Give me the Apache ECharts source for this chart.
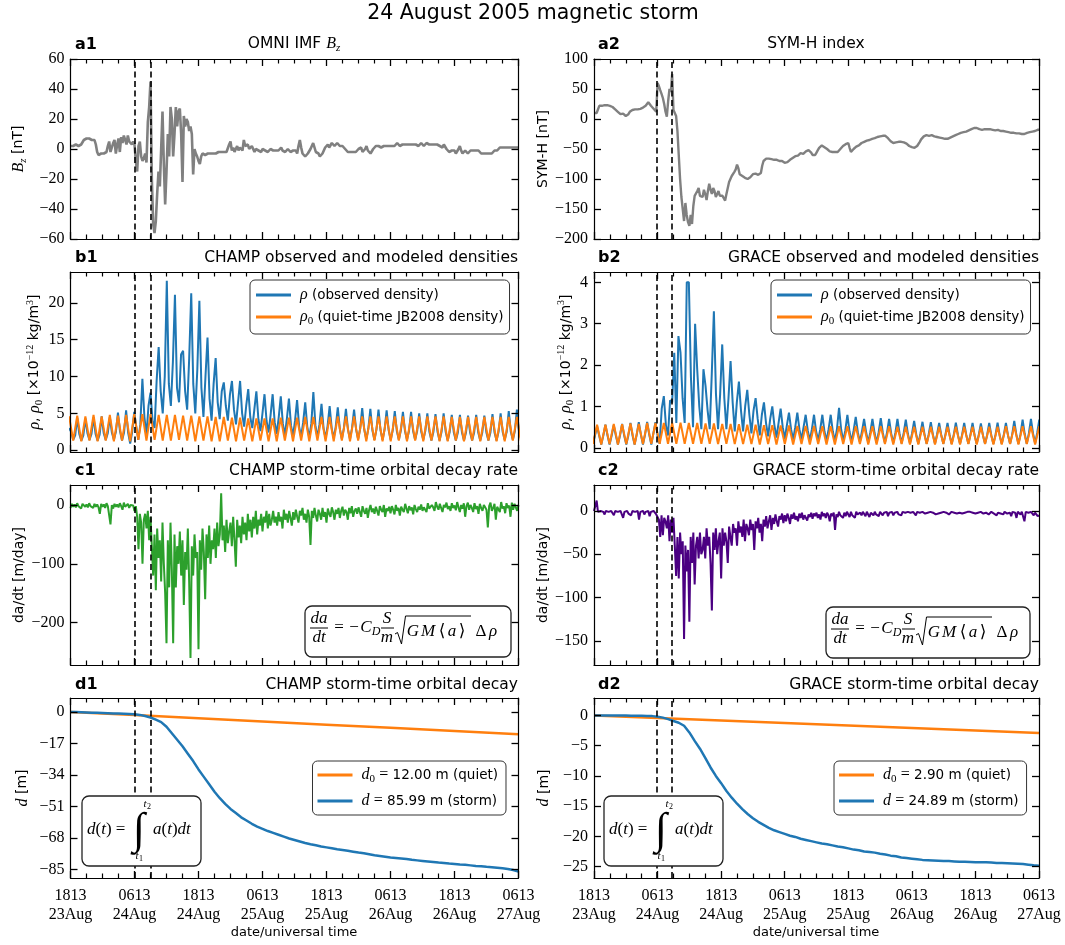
<!DOCTYPE html>
<html><head><meta charset="utf-8">
<script src="https://cdn.jsdelivr.net/npm/echarts@6/dist/echarts.min.js"></script>
<style>html,body{margin:0;padding:0;background:#fff}#c{width:1065px;height:945px}</style>
</head><body><div id="c"></div>
<script>
// ---------------- DATA ----------------
const xTickLabels = ['1813\n23Aug','0613\n24Aug','1813\n24Aug','0613\n25Aug','1813\n25Aug','0613\n26Aug','1813\n26Aug','0613\n27Aug'];
const bzTicks = [-60,-40,-20,0,20,40,60];
const symhTicks = [-200,-150,-100,-50,0,50,100];
const rhoChampTicks = [0,5,10,15,20];
const rhoGraceTicks = [0,1,2,3,4];
const dadtChampTicks = [-200,-100,0];
const dadtGraceTicks = [-150,-100,-50,0];
const dChampTicks = [-85,-68,-51,-34,-17,0];
const dGraceTicks = [-25,-20,-15,-10,-5,0];
const stormMarks = [[12.07,15.06],[11.79,14.76]]; // t1,t2 (hours since 1813 23Aug)

const tStep = 0.25; // hours, Bz / SYM-H / da/dt sampling
const bz = [
2,1,2,2,3,2,2,3,3,4,6,6, 7,6,7,6,6,5,6,3,-2,-4,-5,-3, -4,-3,-3,-2,2,5,-2,-3,4,6,-3,3,
7,-2,8,4,9,6,3,9,5,6,3,5, 3,-8,-15,2,5,-5,-8,-6,-3,-9,18,28, 45,-20,-50,-56,-48,-30,-15,-25,0,25,-10,-37,
-15,10,-5,28,20,-5,10,28,15,25,27,10, -22,22,15,20,18,12,15,10,-17,0,-3,-5, -8,-10,-5,-3,-2,-4,-3,-3,-2,-3,-2,-3,
-2,-3,-3,-2,-3,-2,-3,-2,-1,-2,-3,3, 5,-1,1,-2,0,2,-1,1,0,-1,6,2, 1,3,0,-1,2,1,-2,0,1,-1,0,-2,
0,1,-1,0,-2,-1,0,1,-1,-2,-1,0, -1,0,1,-1,0,-2,-1,0,-1,-2,-3,-1, -2,-1,-3,2,6,1,-3,-4,-5,-4,-3,-2,
0,2,4,1,-2,-1,-3,-5,-4,-3,-2,1, 2,3,1,2,4,3,2,3,4,3,2,1, 2,1,0,-1,-2,-1,-2,-1,-2,-3,-2,-1,
0,-1,1,-2,-1,0,2,-1,0,-3,-2,0, 1,2,1,2,3,1,2,2,3,2,1,2, 3,2,3,2,3,4,3,2,3,3,2,3,
2,3,4,3,2,3,4,3,3,2,3,4, 3,2,3,4,3,3,4,3,2,3,4,3, 3,2,2,1,3,2,0,-1,-2,-3,-1,0,
-1,-3,-2,0,2,-1,-3,-2,-1,-2,-3,-2, -1,-2,-1,0,-1,-2,-1,-2,-3,-4,-3,-2, -3,-4,-3,-2,-3,-2,-1,-2,-1,0,1,0,
1,2,1,0,1,2,1,2,1,2,1,0, 1];
const symh = [
10,10,10,10,22,23,22,24,23,24,23,24, 22,23,20,18,16,14,12,10,8,7,9,6, 5,6,8,12,14,15,14,16,17,16,18,17,
18,19,20,22,24,28,25,22,20,17,14,12, 60,55,48,42,35,25,12,4,30,50,45,75, 15,10,5,-20,-60,-100,-130,-150,-170,-140,-160,-172,
-178,-160,-175,-145,-128,-125,-120,-115,-128,-125,-130,-118, -125,-135,-120,-108,-118,-125,-115,-120,-130,-125,-120,-128,
-130,-128,-132,-136,-125,-115,-105,-100,-95,-92,-88,-84, -76,-82,-92,-95,-95,-97,-98,-100,-100,-98,-97,-95,
-92,-90,-91,-92,-93,-92,-90,-78,-70,-67,-66,-65, -66,-65,-67,-66,-68,-67,-68,-69,-70,-68,-70,-72,
-73,-75,-72,-70,-68,-67,-65,-63,-62,-60,-61,-58, -57,-56,-58,-55,-54,-53,-52,-53,-56,-60,-62,-60,
-56,-52,-48,-45,-44,-46,-47,-48,-50,-52,-54,-55, -55,-56,-55,-54,-55,-52,-50,-47,-45,-44,-42,-40,
-40,-48,-55,-53,-50,-48,-46,-45,-44,-42,-40,-39, -38,-37,-36,-35,-35,-34,-33,-33,-32,-31,-30,-30,
-29,-28,-28,-27,-28,-30,-32,-34,-37,-40,-40,-39, -39,-38,-38,-39,-38,-38,-39,-40,-41,-43,-45,-48,
-47,-50,-48,-46,-45,-42,-38,-34,-31,-29,-28,-27, -27,-28,-28,-27,-28,-29,-30,-30,-31,-31,-32,-32,
-33,-33,-32,-33,-32,-31,-30,-29,-28,-27,-26,-25, -24,-23,-22,-22,-21,-21,-20,-19,-18,-17,-16,-15,
-14,-15,-16,-17,-18,-18,-17,-17,-18,-17,-18,-17, -17,-18,-18,-19,-19,-18,-19,-20,-20,-20,-21,-21,
-21,-22,-22,-23,-22,-23,-24,-24,-25,-24,-25,-25, -24,-25,-24,-23,-23,-22,-22,-21,-21,-20,-19,-18, -18];

// CHAMP densities: first sample is an orbit peak at champT0; orange = half-orbit samples, blue = quarter-orbit samples
const champT0 = -0.262, champHalf = 0.7633;
const rho0Champ = [
4.6,1.3,4.7,1.2,4.6,1.3,4.8,1.2,4.6,1.3,4.8,1.2,4.7,1.3,4.8,1.2,4.9,1.4,4.9,1.3,
4.9,1.4,4.8,1.3,4.8,1.3,4.8,1.4,4.7,1.3,4.7,1.2,4.6,1.3,4.6,1.2,4.5,1.2,4.5,1.3,
4.4,1.2,4.4,1.3,4.3,1.2,4.3,1.3,4.3,1.2,4.3,1.2,4.4,1.3,4.4,1.2,4.4,1.3,4.5,1.2,
4.5,1.3,4.5,1.2,4.5,1.2,4.6,1.3,4.6,1.2,4.6,1.3,4.6,1.2,4.6,1.3,4.6,1.2,4.6,1.2,
4.6,1.3,4.6,1.2,4.6,1.3,4.6,1.2,4.6,1.3,4.6,1.2,4.6,1.2,4.5,1.3,4.5,1.2,4.5,1.3,
4.5,1.2,4.5,1.3,4.5,1.2,4.5,1.2,4.5,1.3,4.5,1.2];
const rhoChamp = [
3.0,2.5,1.4,2.0, 4.4,2.2,1.3,2.0, 4.3,2.3,1.4,2.2, 4.5,2.2,1.3,2.1, 4.6,2.3,1.4,2.3, 4.5,2.4,1.4,2.5,
5.1,2.6,1.3,2.4, 5.4,2.4,0.9,2.5, 5.2,3.2,1.4,3.5, 9.7,4.5,2.0,6.0, 7.8,4.0,3.0,9.4, 14.0,8.0,5.0,10.0,
23.0,9.0,6.0,12.0, 21.1,8.5,6.5,13.0, 13.5,8.0,5.5,12.5, 21.3,9.0,5.0,11.0, 20.3,8.5,4.5,10.0, 15.3,7.0,4.0,9.0,
12.5,6.5,4.2,8.0, 9.2,6.0,4.0,7.5, 9.4,5.5,3.5,6.5, 9.4,5.0,3.2,6.0, 8.3,4.5,3.0,5.5, 8.0,4.2,2.6,5.0,
7.6,4.0,2.4,4.8, 7.6,3.8,2.2,4.5, 7.3,3.6,2.0,4.3, 7.0,3.4,1.9,4.0, 6.8,3.2,1.8,3.8, 6.5,3.2,1.7,3.6,
7.9,3.4,1.7,3.5, 6.3,3.0,1.6,3.3, 6.0,3.0,1.6,3.2, 5.8,2.9,1.5,3.0, 5.6,2.8,1.5,3.0, 5.5,2.8,1.5,2.9,
5.7,2.8,1.5,2.9, 5.6,2.7,1.4,2.8, 5.5,2.7,1.4,2.8, 5.4,2.7,1.4,2.7, 5.3,2.6,1.4,2.7, 5.2,2.6,1.4,2.6,
5.2,2.6,1.4,2.6, 5.0,2.5,1.4,2.6, 5.0,2.5,1.3,2.5, 4.9,2.5,1.3,2.5, 5.0,2.5,1.3,2.5, 4.8,2.4,1.3,2.4,
4.8,2.4,1.3,2.4, 4.7,2.4,1.3,2.4, 4.8,2.4,1.3,2.4, 4.7,2.4,1.3,2.4, 4.9,2.4,1.3,2.5, 5.0,2.5,1.4,2.5,
5.3,2.5,1.4,2.6, 5.5,2.6,1.6,2.8];

// GRACE densities
const graceT0 = -0.995, graceHalf = 0.7875;
const rho0Grace = [
0.55,0.09,0.56,0.08,0.56,0.09,0.58,0.08,0.57,0.09,0.59,0.08,0.58,0.09,0.6,0.1,0.6,0.1,
0.6,0.1,0.6,0.1,0.61,0.1,0.6,0.1,0.6,0.1,0.59,0.1,0.59,0.09,0.58,0.1,0.58,0.09,0.57,0.09,
0.56,0.09,0.56,0.08,0.55,0.09,0.55,0.08,0.54,0.09,0.54,0.08,0.53,0.09,0.53,0.08,0.53,0.09,0.52,0.08,
0.52,0.08,0.52,0.09,0.52,0.08,0.52,0.09,0.52,0.08,0.52,0.08,0.52,0.09,0.52,0.08,0.51,0.09,0.51,0.08,
0.51,0.08,0.51,0.09,0.51,0.08,0.51,0.09,0.51,0.08,0.51,0.08,0.51,0.09,0.51,0.08,0.51,0.09,0.51,0.08,
0.51,0.08,0.52,0.09,0.52,0.08,0.52,0.09,0.52,0.08,0.52,0.09];
const rhoGrace = [
0.5,0.3,0.1,0.3, 0.52,0.3,0.08,0.3, 0.56,0.3,0.08,0.3, 0.55,0.3,0.08,0.3, 0.58,0.3,0.08,0.3,
0.6,0.3,0.08,0.32, 0.62,0.32,0.08,0.32, 0.63,0.32,0.08,0.35, 0.62,0.3,0.1,0.95, 1.25,0.55,0.3,1.15,
1.1,2.3,0.6,2.7, 2.3,1.2,0.6,4.0, 4.0,1.7,0.5,3.0, 1.9,1.0,0.45,1.9, 1.5,0.9,0.45,1.8,
3.3,1.3,0.45,1.3, 2.5,1.2,0.45,1.2, 2.1,1.1,0.4,1.1, 1.6,0.9,0.4,1.0, 1.4,0.8,0.35,0.9,
1.2,0.7,0.3,0.8, 1.1,0.6,0.28,0.7, 1.0,0.55,0.25,0.6, 0.95,0.5,0.22,0.55, 0.85,0.45,0.2,0.5,
0.85,0.45,0.2,0.5, 0.8,0.42,0.18,0.45, 0.8,0.4,0.18,0.45, 0.8,0.4,0.17,0.45, 0.8,0.4,0.16,0.45,
0.97,0.45,0.16,0.42, 0.8,0.4,0.15,0.42, 0.75,0.38,0.14,0.4, 0.7,0.37,0.13,0.38, 0.7,0.37,0.12,0.38,
0.72,0.36,0.12,0.37, 0.7,0.35,0.12,0.36, 0.7,0.35,0.11,0.36, 0.68,0.34,0.11,0.35, 0.65,0.33,0.1,0.34,
0.63,0.32,0.1,0.33, 0.62,0.32,0.1,0.33, 0.6,0.31,0.1,0.32, 0.6,0.31,0.1,0.32, 0.61,0.31,0.1,0.32,
0.6,0.31,0.1,0.32, 0.6,0.3,0.1,0.32, 0.59,0.3,0.1,0.31, 0.6,0.3,0.1,0.31, 0.61,0.3,0.1,0.32,
0.6,0.3,0.1,0.32, 0.65,0.32,0.1,0.33, 0.68,0.34,0.1,0.35, 0.7,0.35,0.11,0.36, 0.68,0.35,0.12,0.35];

const dadtChamp = [
-5,2,-3,1,-4,3,-2,0,-6,2,-1,-3, 1,-4,3,-2,0,-5,2,-3,1,-4,-15,2, -3,1,-5,3,-2,-4,-33,0,-6,2,-3,1,
-4,3,-2,-8,4,-3,-6,2,-5,0,-3,-1, -10,-2,-20,-75,-15,-30,-100,-25,-15,-40,-10,-60,
-20,-70,-120,-50,-145,-40,-90,-60,-130,-30,-100,-150, -235,-60,-140,-30,-110,-235,-50,-140,-70,-100,-45,-120,
-60,-170,-80,-110,-40,-130,-260,-70,-120,-50,-90,-80, -245,-60,-110,-40,-80,-160,-50,-90,-35,-100,-60,-75,
-40,-90,-30,-70,-50,20,-60,-35,-80,-25,-65,-45, -30,-70,-20,-60,-105,-25,-55,-35,-65,-20,-50,-30,
-60,-15,-45,-25,-55,-20,-40,-10,-50,-25,-35,-15, -45,-20,-30,-10,-40,-15,-35,-25,-10,-30,-20,-35,
-12,-28,-20,-40,-8,-25,-15,-30,-10,-22,-35,-12, -25,-8,-20,-30,-10,-18,-5,-25,-15,-30,-8,-20,
-68,-10,-22,-5,-18,-28,-8,-15,-25,-5,-20,-12, -30,-6,-15,-20,-4,-12,-25,-8,-15,-5,-22,-10,
-3,-18,-8,-12,-25,-5,-14,-2,-20,-10,-6,-15, -4,-12,-20,-2,-10,-15,-5,-22,-8,0,-12,-6,
-15,-3,-10,-18,-2,-8,-12,0,-20,-6,-10,-3, -14,-2,-8,-16,0,-10,-5,-18,-3,-8,-12,2,
-6,-14,-2,-9,-4,-16,0,-7,-12,-3,-8,1, -10,-4,-2,-12,3,-6,-9,0,-4,-10,5,-3,
-8,2,-5,-12,0,-4,4,-7,-2,-10,3,-5, -1,-9,5,-4,-12,0,-6,3,-20,-2,4,-8,
0,-5,-12,3,-7,-2,-15,2,-5,-10,0,-4, -8,-38,-2,4,-10,-5,2,-25,-3,0,-12,5,
-6,-2,-14,3,-5,-1,-20,4,-8,2,-4,-10, 0];
const dadtGrace = [
0,-2,12,-1,-3,0,-2,-1,-4,0,-2,-1, -3,0,-1,-5,0,-2,-1,-3,0,-2,-8,-1, -2,0,-3,-1,-5,0,-2,-1,-3,0,-10,-1,
-2,0,-4,-1,-2,0,-6,-1,-3,0,-2,-4, -2,-10,-30,-5,-28,-8,-12,-20,-5,-35,-10,-25,
-8,-40,-75,-30,-78,-25,-50,-35,-148,-40,-70,-45, -128,-30,-60,-25,-85,-40,-30,-55,-25,-50,-45,-30,
-55,-20,-40,-30,-60,-115,-25,-45,-20,-50,-35,-25, -78,-20,-40,-25,-35,-60,-18,-30,-40,-15,-25,-20,
-40,-12,-25,-18,-30,-10,-35,-15,-20,-28,-10,-22, -15,-45,-12,-20,-8,-25,-15,-35,-10,-18,-6,-20,
-12,-5,-22,-8,-15,-4,-12,-18,-6,-10,-3,-14, -5,-12,-3,-8,-15,-4,-9,-2,-10,-6,-12,-3,
-8,-2,-10,-5,-3,-11,-4,-7,-2,-9,-3,-6, -2,-8,-4,-10,-1,-6,-3,-8,-2,-5,-12,-3,
-6,-2,-22,-4,-7,-1,-5,-3,-8,-2,-6,-1, -4,-7,-1,-5,-3,-8,-1,-4,-6,-2,-5,-1,
-3,-6,-1,-4,-7,-2,-3,-5,-1,-4,-2,-6, -1,-3,-5,-2,-4,-1,-6,-2,-3,-1,-5,-2,
-3,-1,-4,-2,-5,-1,-3,-2,-4,-1,-3,-2, -4,-1,-2,-5,-1,-3,-2,-4,-1,-2,-3,-1,
-2,-4,-1,-3,-2,-1,-4,-2,-3,-1,-2,-3, -1,-3,-2,-1,-4,-2,-1,-3,-2,-1,-3,-2,
-2,-1,-3,-1,-2,-4,-1,-2,-1,-3,-2,-1, -3,-1,-2,-4,-1,-2,-3,-1,-2,-1,-4,-2,
-1,-2,-3,-1,-5,-2,-1,-3,-2,-4,-1,-2, -3,-1,-2,-6,-1,-3,-2,-8,-1,-2,-4,-1,
-2,-12,-1,-3,-2,-4,-1,-3,-5,-2,-4,-6, -5];

const dStep = 1; // hours
const dChamp = [
0,-0.1,-0.2,-0.3,-0.4,-0.5,-0.6,-0.7,-0.8,-0.9,-1.0,-1.1,
-1.3,-1.6,-2.2,-3.0,-4.2,-5.5,-8.0,-11.5,-15.0,-18.5,-22.5,-26.5,
-31.0,-35.0,-39.0,-43.0,-46.5,-49.5,-52.3,-54.5,-56.8,-58.5,-60.3,-61.8,
-63.0,-64.2,-65.2,-66.2,-67.2,-68.2,-69.0,-69.8,-70.6,-71.3,-71.9,-72.5,
-73.0,-73.5,-74.0,-74.4,-74.8,-75.3,-75.8,-76.2,-76.7,-77.2,-77.6,-78.0,
-78.4,-78.7,-79.0,-79.3,-79.7,-80.0,-80.3,-80.6,-80.9,-81.2,-81.4,-81.7,
-81.9,-82.2,-82.4,-82.7,-83.0,-83.2,-83.5,-83.7,-84.0,-84.3,-84.6,-85.2,-86.0];
const dGrace = [
0,0,0,0,0,0,-0.01,-0.02,-0.03,-0.05,-0.07,-0.1,
-0.2,-0.35,-0.6,-0.9,-1.2,-1.7,-2.8,-4.2,-5.5,-7.0,-8.6,-10.0,
-11.2,-12.5,-13.6,-14.6,-15.5,-16.3,-17.0,-17.6,-18.1,-18.6,-19.0,-19.3,
-19.6,-19.9,-20.1,-20.4,-20.6,-20.8,-21.0,-21.2,-21.3,-21.5,-21.7,-21.8,
-22.0,-22.2,-22.3,-22.5,-22.6,-22.7,-22.9,-23.0,-23.2,-23.3,-23.5,-23.6,
-23.7,-23.8,-23.9,-23.95,-24.0,-24.05,-24.1,-24.1,-24.15,-24.2,-24.2,-24.25,
-24.3,-24.3,-24.3,-24.35,-24.4,-24.4,-24.45,-24.5,-24.55,-24.6,-24.7,-24.8,-24.89];
const d0Step = 12;
const d0Champ = [0,-1.71,-3.43,-5.14,-6.86,-8.57,-10.29,-12.0];
const d0Grace = [0,-0.41,-0.83,-1.24,-1.66,-2.07,-2.49,-2.9];
const legendNumbers = {d0C:'12.00', dC:'85.99', d0G:'2.90', dG:'24.89'};

// ---------------- LAYOUT / STYLE ----------------
const SERIF = '"Liberation Serif","DejaVu Serif",serif';
const SANS = '"DejaVu Sans",sans-serif';
const GL = [70.5, 594], GW = [448, 445], RT = [59, 272, 485, 698], RH = 180;
const TMAX = 84;
const GRAY = '#808080', BLUE = '#1f77b4', ORANGE = '#ff7f0e', GREEN = '#2ca02c', INDIGO = '#4b0082';

const RICH = {
  i: {fontFamily: SERIF, fontStyle: 'italic', fontSize: 16},
  n: {fontFamily: SERIF, fontSize: 16},
  s: {fontFamily: SERIF, fontSize: 11, padding: [9, 0, 0, 0]},
  si: {fontFamily: SERIF, fontStyle: 'italic', fontSize: 11, padding: [9, 0, 0, 0]},
  sup: {fontFamily: SERIF, fontSize: 10, padding: [0, 0, 9, 0]}
};
const minusFmt = v => String(v).replace('-', '\u2212');
const pts = (vals, t0, dt) => vals.map((v, i) => [+(t0 + i * dt).toFixed(4), v]);

const RHO_NAME = '{i|ρ}, {i|ρ}{s|0} [×10{sup|−12} kg/m{sup|3}]';
const panelDefs = [
  {row:0,col:0,ymin:-60,ymax:60,ticks:bzTicks,yname:'{i|B}{si|z} [nT]',gap:42},
  {row:0,col:1,ymin:-200,ymax:100,ticks:symhTicks,yname:'SYM-H [nT]',gap:44},
  {row:1,col:0,ymin:-0.25,ymax:24.2,ticks:rhoChampTicks,yname:RHO_NAME,gap:24},
  {row:1,col:1,ymin:-0.1,ymax:4.25,ticks:rhoGraceTicks,yname:RHO_NAME,gap:18},
  {row:2,col:0,ymin:-272,ymax:34,ticks:dadtChampTicks,yname:'da/dt [m/day]',gap:44},
  {row:2,col:1,ymin:-178,ymax:30,ticks:dadtGraceTicks,yname:'da/dt [m/day]',gap:44},
  {row:3,col:0,ymin:-89.5,ymax:7.5,ticks:dChampTicks,yname:'{i|d} [m]',gap:40},
  {row:3,col:1,ymin:-26.9,ymax:2.9,ticks:dGraceTicks,yname:'{i|d} [m]',gap:42}
];

const grid = [], xAxis = [], yAxis = [];
panelDefs.forEach((p, k) => {
  grid.push({left: GL[p.col], top: RT[p.row], width: GW[p.col], height: RH, show: false});
  const xc = {type:'value', gridIndex:k, min:0, max:TMAX, interval:12, z:5,
    axisLine:{show:true,onZero:false,lineStyle:{color:'#000',width:1.2}},
    axisTick:{show:true,inside:true,length:7,lineStyle:{color:'#000',width:1.3}},
    minorTick:{show:true,splitNumber:4,length:4.5,lineStyle:{color:'#000',width:1.2}},
    splitLine:{show:false}, minorSplitLine:{show:false}};
  xAxis.push(Object.assign({}, xc, {position:'bottom',
    axisLabel:{show:p.row === 3, formatter: v => xTickLabels[Math.round(v / 12)], fontFamily:SERIF, fontSize:16, lineHeight:19, color:'#000', margin:8}}));
  xAxis.push(Object.assign({}, xc, {position:'top', axisLabel:{show:false}}));
  const yc = {type:'value', gridIndex:k, min:p.ymin, max:p.ymax, z:5,
    axisLine:{show:true,onZero:false,lineStyle:{color:'#000',width:1.2}},
    axisTick:{show:true,inside:true,length:7,customValues:p.ticks,lineStyle:{color:'#000',width:1.3}},
    splitLine:{show:false}};
  yAxis.push(Object.assign({}, yc, {position:'left',
    axisLabel:{show:true, customValues:p.ticks, formatter:minusFmt, fontFamily:SERIF, fontSize:16, color:'#000', margin:6},
    name:p.yname, nameLocation:'middle', nameRotate:90, nameGap:p.gap,
    nameTextStyle:{fontFamily:SANS, fontSize:14, color:'#000', rich:RICH}}));
  yAxis.push(Object.assign({}, yc, {position:'right', axisLabel:{show:false}}));
});

function line(name, k, data, color, width) {
  return {type:'line', name, xAxisIndex:2*k, yAxisIndex:2*k, data, showSymbol:false, symbol:'none',
    lineStyle:{color, width: width || 2}, itemStyle:{color}, animation:false, emphasis:{disabled:true}};
}
function withMarks(s, col) {
  s.markLine = {silent:true, symbol:['none','none'], label:{show:false}, animation:false,
    lineStyle:{color:'#000', width:1.6, type:[6,3.5]}, emphasis:{disabled:true},
    data: stormMarks[col].map(t => ({xAxis:t}))};
  return s;
}
const series = [
  withMarks(line('bz', 0, pts(bz, 0, tStep), GRAY, 2.6), 0),
  withMarks(line('symh', 1, pts(symh, 0, tStep), GRAY, 2.4), 1),
  line('rhoC', 2, pts(rhoChamp, champT0, champHalf / 2), BLUE),
  withMarks(line('rho0C', 2, pts(rho0Champ, champT0, champHalf), ORANGE), 0),
  line('rhoG', 3, pts(rhoGrace, graceT0, graceHalf / 2), BLUE),
  withMarks(line('rho0G', 3, pts(rho0Grace, graceT0, graceHalf), ORANGE), 1),
  withMarks(line('dadtC', 4, pts(dadtChamp, 0, tStep), GREEN), 0),
  withMarks(line('dadtG', 5, pts(dadtGrace, 0, tStep), INDIGO), 1),
  line('d0C', 6, pts(d0Champ, 0, d0Step), ORANGE, 2.5),
  withMarks(line('dC', 6, pts(dChamp, 0, dStep), BLUE, 2.5), 0),
  line('d0G', 7, pts(d0Grace, 0, d0Step), ORANGE, 2.5),
  withMarks(line('dG', 7, pts(dGrace, 0, dStep), BLUE, 2.5), 1)
];

const legendText = {
  rhoC:'{i|ρ} (observed density)', rho0C:'{i|ρ}{s|0} (quiet-time JB2008 density)',
  rhoG:'{i|ρ} (observed density)', rho0G:'{i|ρ}{s|0} (quiet-time JB2008 density)',
  d0C:'{i|d}{s|0} {n|=} ' + legendNumbers.d0C + ' m (quiet)', dC:'{i|d} {n|=} ' + legendNumbers.dC + ' m (storm)',
  d0G:'{i|d}{s|0} {n|=} ' + legendNumbers.d0G + ' m (quiet)', dG:'{i|d} {n|=} ' + legendNumbers.dG + ' m (storm)'
};
function mkLegend(names, left, top, gap, pad) {
  return {data:names, left, top, orient:'vertical', icon:'rect', itemWidth:35, itemHeight:2.8, itemGap:gap,
    padding:pad, borderColor:'#333', borderWidth:1, borderRadius:5, backgroundColor:'#fff',
    selectedMode:false, formatter: n => legendText[n], z:10,
    textStyle:{fontFamily:SANS, fontSize:13.5, color:'#000', padding:[0,0,0,4], rich:RICH}};
}
const legend = [
  mkLegend(['rhoC','rho0C'], 250, 280, 6, [7,6,7,6]),
  mkLegend(['rhoG','rho0G'], 771, 280, 6, [7,6,7,6]),
  mkLegend(['d0C','dC'], 312.5, 761, 8, [6,8,6,5]),
  mkLegend(['d0G','dG'], 834, 761, 8, [6,8,6,5])
];

// ---------------- TEXT & FORMULAS ----------------
const ZT = 100;
function T(x, y, text, font, align, rich) {
  return {type:'text', x, y, z:ZT, silent:true, style:{text, font, fill:'#000', textAlign:align || 'left', textVerticalAlign:'middle', rich}};
}
const FR = {
  i:{fontFamily:SERIF, fontStyle:'italic', fontSize:17},
  n:{fontFamily:SERIF, fontSize:17}
};
function ct(x, y, text, font, align) {
  return {type:'text', x, y, z:ZT, style:{text, font, fill:'#000', textAlign:align || 'center', textVerticalAlign:'middle'}};
}
function rt(x, y, text) {
  return {type:'text', x, y, z:ZT, style:{text, rich:FR, fill:'#000', textAlign:'left', textVerticalAlign:'middle'}};
}
const IF = 'italic 17px ' + SERIF, NF = '17px ' + SERIF;
function daBox(x, y, w) {
  return {type:'group', x, y, z:ZT, silent:true, children:[
    {type:'rect', z:ZT, shape:{x:0,y:0,width:w,height:51,r:7}, style:{fill:'#fff',stroke:'#222',lineWidth:1.3}},
    ct(14, 13, 'da', IF),
    {type:'line', z:ZT, shape:{x1:5,y1:22,x2:23,y2:22}, style:{stroke:'#000',lineWidth:1}},
    ct(14, 32, 'dt', IF),
    ct(34, 22, '=', NF), ct(49, 22, '−', NF), ct(61, 22, 'C', IF), ct(71, 26, 'D', 'italic 12px ' + SERIF),
    ct(82, 13, 'S', IF),
    {type:'line', z:ZT, shape:{x1:76,y1:22,x2:89,y2:22}, style:{stroke:'#000',lineWidth:1}},
    ct(82, 32, 'm', IF),
    {type:'polyline', z:ZT, shape:{points:[[90,28],[92.5,26.5],[96.5,38],[100.5,10],[166,10]]}, style:{stroke:'#000',lineWidth:1,fill:null}},
    ct(108, 26, 'G', IF), ct(123, 26, 'M', IF), ct(137, 26, '⟨', NF), ct(147, 26, 'a', IF), ct(157, 26, '⟩', NF),
    ct(176, 26, 'Δ', NF), ct(188, 26, 'ρ', IF)
  ]};
}
function intBox(x, y) {
  return {type:'group', x, y, z:ZT, silent:true, children:[
    {type:'rect', z:ZT, shape:{x:0,y:0,width:119,height:70,r:7}, style:{fill:'#fff',stroke:'#222',lineWidth:1.3}},
    rt(5, 34, '{i|d}{n|(}{i|t}{n|) =}'),
    ct(57, 35, '∫', '44px ' + SERIF),
    ct(63, 8, 't', 'italic 11px ' + SERIF), ct(67, 11, '2', '8px ' + SERIF),
    ct(55, 60, 't', 'italic 11px ' + SERIF), ct(59, 63, '1', '8px ' + SERIF),
    rt(71, 34, '{i|a}{n|(}{i|t}{n|)}{i|dt}')
  ]};
}
const TF = '15.5px ' + SANS, LF = 'bold 16px ' + SANS;
const graphic = [
  T(533, 14, '24 August 2005 magnetic storm', '20.5px ' + SANS, 'center'),
  T(75, 45, 'a1', LF), T(598, 45, 'a2', LF), T(75, 258, 'b1', LF), T(598, 258, 'b2', LF),
  T(75, 471, 'c1', LF), T(598, 471, 'c2', LF), T(75, 685, 'd1', LF), T(598, 685, 'd2', LF),
  T(294, 44, 'OMNI IMF {i|B}{si|z}', TF, 'center', RICH),
  T(816, 44, 'SYM-H index', TF, 'center'),
  T(518, 258, 'CHAMP observed and modeled densities', TF, 'right'),
  T(1039, 258, 'GRACE observed and modeled densities', TF, 'right'),
  T(518, 471, 'CHAMP storm-time orbital decay rate', TF, 'right'),
  T(1039, 471, 'GRACE storm-time orbital decay rate', TF, 'right'),
  T(518, 685, 'CHAMP storm-time orbital decay', TF, 'right'),
  T(1039, 685, 'GRACE storm-time orbital decay', TF, 'right'),
  T(294, 933, 'date/universal time', '13px ' + SANS, 'center'),
  T(816, 933, 'date/universal time', '13px ' + SANS, 'center'),
  daBox(305, 606, 206), daBox(826, 607, 204),
  intBox(82, 796), intBox(604, 796)
];

const chart = echarts.init(document.getElementById('c'), null, {renderer:'canvas'});
chart.setOption({animation:false, backgroundColor:'#fff', grid, xAxis, yAxis, series, legend, graphic});
</script></body></html>
